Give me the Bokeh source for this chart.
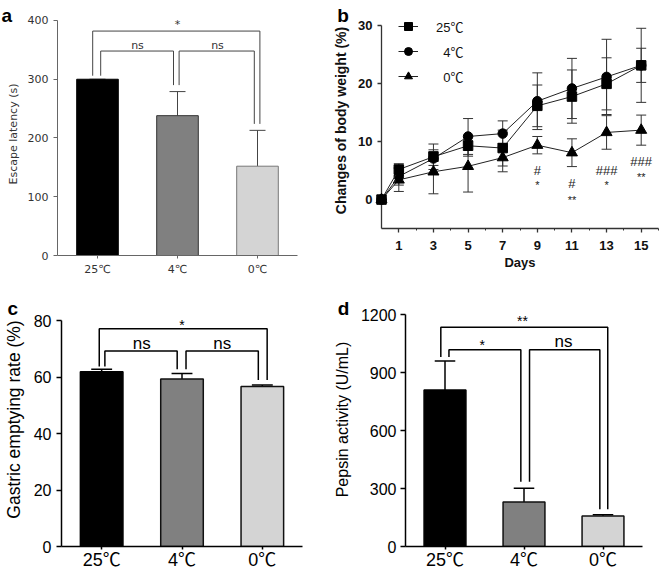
import numpy as np
from bokeh.plotting import figure
from bokeh.models import (Range1d, FixedTicker, Legend, LegendItem,
                          ColumnDataSource, Whisker, TeeHead)
from bokeh.layouts import row, column
from bokeh.embed import file_html
from bokeh.resources import INLINE
from bokeh.core.properties import value

# ---------------- data ----------------
categories = ["25℃", "4℃", "0℃"]
bar_fill = ["#000000", "#808080", "#d4d4d4"]

latency_mean = [300, 238, 152]
latency_sd = [0, 41, 61]
latency_ticks = [0, 100, 200, 300, 400]
latency_brackets_x = [[0.94, 3.03], [1.04, 1.95], [2.02, 2.96]]
latency_brackets_top = [382, 348, 348]
latency_brackets_legs = [[306, 224], [306, 290], [290, 224]]
latency_sig = ["*", "ns", "ns"]
latency_sig_x = [2.0, 1.5, 2.5]
latency_sig_y = [394, 357, 357]

days = [0, 1, 3, 5, 7, 9, 11, 13, 15]
weight_25 = [0, 5.2, 7.4, 9.3, 8.9, 16.2, 17.8, 20.0, 23.2]
weight_25_sd = [0, 1.0, 2.2, 1.8, 3.1, 3.6, 4.6, 4.5, 2.95]
weight_4 = [0, 4.0, 7.1, 10.9, 11.4, 17.0, 19.2, 21.2, 23.2]
weight_4_sd = [0, 1.5, 1.2, 3.1, 2.2, 4.9, 5.2, 6.5, 6.4]
weight_0 = [0, 3.4, 4.8, 5.75, 7.25, 9.4, 8.1, 11.6, 12.0]
weight_0_sd = [0, 2.0, 3.8, 4.45, 2.45, 1.5, 2.4, 2.9, 2.6]
weight_ticks = [0, 10, 20, 30]
day_ticks = [1, 3, 5, 7, 9, 11, 13, 15]
day_minor_ticks = [2, 4, 6, 8, 10, 12, 14, 16]
hash_days = [9, 11, 13, 15]
hash_marks = ["#", "#", "###", "###"]
hash_y = [5.1, 2.8, 5.1, 6.55]
star_marks = ["*", "**", "*", "**"]
star_y = [2.5, -0.05, 2.5, 3.9]

gastric_mean = [61.9, 59.3, 56.7]
gastric_sd = [0.9, 2.0, 0.5]
gastric_ticks = [0, 20, 40, 60, 80]
gastric_brackets_x = [[0.97, 3.06], [1.04, 1.94], [2.05, 2.95]]
gastric_brackets_top = [77.1, 69.2, 69.2]
gastric_brackets_legs = [[63.7, 59.0], [63.7, 62.8], [62.8, 59.0]]
gastric_sig = ["*", "ns", "ns"]
gastric_sig_x = [2.0, 1.5, 2.5]
gastric_sig_y = [78.5, 71.8, 71.8]

pepsin_mean = [810, 231, 158]
pepsin_sd = [150, 70, 6]
pepsin_ticks = [0, 300, 600, 900, 1200]
pepsin_brackets_x = [[0.947, 3.06], [1.05, 1.96], [2.07, 2.96]]
pepsin_brackets_top = [1135, 1019, 1019]
pepsin_brackets_legs = [[981, 193], [981, 335], [335, 193]]
pepsin_sig = ["**", "*", "ns"]
pepsin_sig_x = [1.98, 1.47, 2.5]
pepsin_sig_y = [1167, 1044, 1063]

CJK_STACK = "Liberation Sans, Noto Sans CJK SC"


def style_common(p):
    p.xgrid.visible = False
    p.ygrid.visible = False
    p.outline_line_color = None
    p.background_fill_color = "white"
    p.border_fill_color = "white"
    if "frame_align" in p.properties():
        p.frame_align = False


def panel_letter(p, letter, w, h, borders, px, py):
    """Panel letter placed at pixel offset (px, py) from the figure's top-left,
    converted through the figure's own ranges."""
    l, r, t, b = borders
    xr, yr = p.x_range, p.y_range
    fx = (xr.end - xr.start) / (w - l - r)
    fy = (yr.end - yr.start) / (h - t - b)
    x = xr.start + (px - l) * fx
    y = yr.end - (py - t) * fy
    p.text(x=[x], y=[y], text=[letter], text_font=value("Liberation Sans"),
           text_font_style="bold", text_font_size="19px",
           text_baseline="alphabetic", text_align="left", text_color="black",
           level="overlay")


def bar_panel(letter, means, sds, ticks, y_end, ylabel, bx, btop, blegs,
              sig, sig_x, sig_y, sig_sizes, w, h, borders, st):
    l, r, t, b = borders
    p = figure(width=w, height=h, x_range=Range1d(0.5, 3.5),
               y_range=Range1d(0, y_end), output_backend="svg",
               toolbar_location=None, min_border_left=l, min_border_right=r,
               min_border_top=t, min_border_bottom=b)
    style_common(p)
    xs = np.arange(1, len(categories) + 1)
    m = np.array(means, dtype=float)
    s = np.array(sds, dtype=float)
    # error bars (upper half only)
    p.segment(x0=xs, y0=m, x1=xs, y1=m + s, line_color=st["err"], line_width=st["lw"])
    p.segment(x0=xs - st["cap"], y0=m + s, x1=xs + st["cap"], y1=m + s,
              line_color=st["err"], line_width=st["lw"])
    p.vbar(x=xs, top=m, width=st["bw"], fill_color=bar_fill,
           line_color=st["bar_line"], line_width=st["lw"])
    # significance brackets
    mx, my = [], []
    for (x0, x1), top, (l0, l1) in zip(bx, btop, blegs):
        mx.append([x0, x0, x1, x1])
        my.append([l0, top, top, l1])
    p.multi_line(xs=mx, ys=my, line_color=st["err"], line_width=st["lw"])
    p.text(x=sig_x, y=sig_y, text=sig, text_font=value(st["font"]),
           text_font_size=sig_sizes, text_align="center",
           text_baseline="alphabetic", text_color=st["txt"])
    # axes
    ya = p.yaxis[0]
    ya.ticker = FixedTicker(ticks=ticks)
    ya.bounds = (0, ticks[-1])
    xa = p.xaxis[0]
    xa.ticker = FixedTicker(ticks=list(xs))
    xa.major_label_overrides = {int(i): c for i, c in zip(xs, categories)}
    for ax in (xa, ya):
        ax.axis_line_color = st["axis"]
        ax.axis_line_width = st["alw"]
        ax.major_tick_line_color = st["axis"]
        ax.major_tick_line_width = st["alw"]
        ax.major_tick_in = 0
        ax.minor_tick_line_color = None
        ax.major_label_text_color = st["txt"]
    ya.major_label_text_font = st["font"]
    xa.major_label_text_font = st["cat_font"]
    ya.major_tick_out = st["tick_out"]
    ya.major_label_standoff = st["ystand"]
    ya.major_label_text_font_size = st["tick_size"]
    ya.axis_label = ylabel
    ya.axis_label_text_font = st["font"]
    ya.axis_label_text_font_style = "normal"
    ya.axis_label_text_font_size = st["title_size"]
    ya.axis_label_text_color = st["txt"]
    ya.axis_label_standoff = st["title_stand"]
    xa.major_tick_out = st["xtick_out"]
    xa.major_label_standoff = st["xstand"]
    xa.major_label_text_font_size = st["cat_size"]
    panel_letter(p, letter, w, h, borders, st["lx"], st["ly"])
    return p


style_a = dict(font="DejaVu Sans", cat_font="DejaVu Sans, Noto Sans CJK SC",
               tick_size="11px", cat_size="11px", title_size="11px",
               axis="#666666", alw=1, txt="#333333", err="#444444", lw=1,
               cap=0.1, bw=0.52, bar_line=["#000000", "#333333", "#777777"],
               tick_out=4, ystand=5, title_stand=5, xtick_out=3, xstand=4,
               lx=1, ly=15)
pa = bar_panel("a", latency_mean, latency_sd, latency_ticks, 413.6,
               "Escape latency (s)", latency_brackets_x, latency_brackets_top,
               latency_brackets_legs, latency_sig, latency_sig_x, latency_sig_y,
               ["11px", "11px", "11px"], 330, 288, (57, 33, 12, 33), style_a)

style_c = dict(font="Liberation Sans", cat_font=CJK_STACK, tick_size="16px",
               cat_size="18px", title_size="17.5px", axis="#000000", alw=1.5,
               txt="#000000", err="#000000", lw=1.5, cap=0.13, bw=0.53,
               bar_line=["#000000", "#111111", "#111111"], tick_out=5,
               ystand=5, title_stand=7, xtick_out=3, xstand=0, lx=2, ly=20)
pc = bar_panel("c", gastric_mean, gastric_sd, gastric_ticks, 89.95,
               "Gastric emptying rate (%)", gastric_brackets_x, gastric_brackets_top,
               gastric_brackets_legs, gastric_sig, gastric_sig_x, gastric_sig_y,
               ["14px", "17px", "17px"], 330, 284, (57, 28, 4, 24), style_c)

style_d = dict(style_c)
style_d.update(title_size="16px", title_stand=7, ystand=4)
pd_ = bar_panel("d", pepsin_mean, pepsin_sd, pepsin_ticks, 1315,
                "Pepsin activity (U/mL)", pepsin_brackets_x, pepsin_brackets_top,
                pepsin_brackets_legs, pepsin_sig, pepsin_sig_x, pepsin_sig_y,
                ["14px", "14px", "17px"], 330, 284, (71, 18, 4, 24), style_d)

# ---------------- panel b ----------------
b_borders = (46, 2, 12, 60)
pb = figure(width=330, height=288, x_range=Range1d(0, 16), y_range=Range1d(-5, 32.33),
            output_backend="svg", toolbar_location=None, min_border_left=b_borders[0],
            min_border_right=b_borders[1], min_border_top=b_borders[2],
            min_border_bottom=b_borders[3])
style_common(pb)
series = [("0℃", weight_0, weight_0_sd, "triangle", 11),
          ("4℃", weight_4, weight_4_sd, "circle", 9.5),
          ("25℃", weight_25, weight_25_sd, "square", 9.5)]
items = {}
for name, mean, sd, marker, size in series:
    mean = np.array(mean, dtype=float)
    sd = np.array(sd, dtype=float)
    src = ColumnDataSource(dict(day=days, mean=mean, up=mean + sd, lo=mean - sd))
    lr = pb.line("day", "mean", source=src, line_color="#222222", line_width=1,
                 level="overlay")
    pb.add_layout(Whisker(source=src, base="day", upper="up", lower="lo",
                          dimension="height", line_color="#333333", line_width=1,
                          upper_head=TeeHead(size=10, line_color="#333333", line_width=1),
                          lower_head=TeeHead(size=10, line_color="#333333", line_width=1)))
    sr = pb.scatter("day", "mean", source=src, marker=marker, size=size,
                    fill_color="black", line_color="black", level="overlay")
    items[name] = [lr, sr]

pb.text(x=hash_days, y=hash_y, text=hash_marks, text_font=value("Liberation Sans"),
        text_font_size="13px", text_align="center", text_baseline="alphabetic",
        text_color="#222222")
pb.text(x=hash_days, y=star_y, text=star_marks, text_font=value("Liberation Sans"),
        text_font_size="11px", text_align="center", text_baseline="alphabetic",
        text_color="#222222")

legend = Legend(items=[LegendItem(label="25℃", renderers=items["25℃"]),
                       LegendItem(label="\u00a0\u00a04℃", renderers=items["4℃"]),
                       LegendItem(label="\u00a0\u00a00℃", renderers=items["0℃"])],
                location=(17, 142), glyph_width=20, glyph_height=20,
                label_height=20, label_standoff=18, spacing=5, padding=0,
                margin=0, border_line_color=None, background_fill_alpha=0,
                label_text_font=CJK_STACK, label_text_font_size="13px",
                label_text_color="#111111")
pb.add_layout(legend)

ya = pb.yaxis[0]
ya.ticker = FixedTicker(ticks=weight_ticks)
ya.bounds = (-5, 30)
xa = pb.xaxis[0]
xa.ticker = FixedTicker(ticks=day_ticks, minor_ticks=day_minor_ticks)
xa.bounds = (0, 16)
for ax in (xa, ya):
    ax.axis_line_color = "#333333"
    ax.axis_line_width = 1.3
    ax.major_tick_line_color = "#333333"
    ax.major_tick_line_width = 1.3
    ax.major_tick_in = 0
    ax.major_tick_out = 4
    ax.minor_tick_in = 0
    ax.minor_tick_out = 2
    ax.minor_tick_line_color = "#333333"
    ax.major_label_text_font = "Liberation Sans"
    ax.major_label_text_font_style = "bold"
    ax.major_label_text_font_size = "13px"
    ax.major_label_text_color = "#111111"
    ax.axis_label_text_font = "Liberation Sans"
    ax.axis_label_text_font_style = "bold"
    ax.axis_label_text_color = "#111111"
ya.minor_tick_line_color = None
ya.major_label_standoff = 5
ya.axis_label = "Changes of body weight (%)"
ya.axis_label_text_font_size = "14px"
ya.axis_label_standoff = 6
xa.major_label_standoff = 8
xa.axis_label = "Days"
xa.axis_label_text_font_size = "13px"
xa.axis_label_standoff = 2
panel_letter(pb, "b", 330, 288, b_borders, 1, 15)

layout = column(row(pa, pb), row(pc, pd_))
open("out.html", "w").write(file_html(layout, INLINE))
